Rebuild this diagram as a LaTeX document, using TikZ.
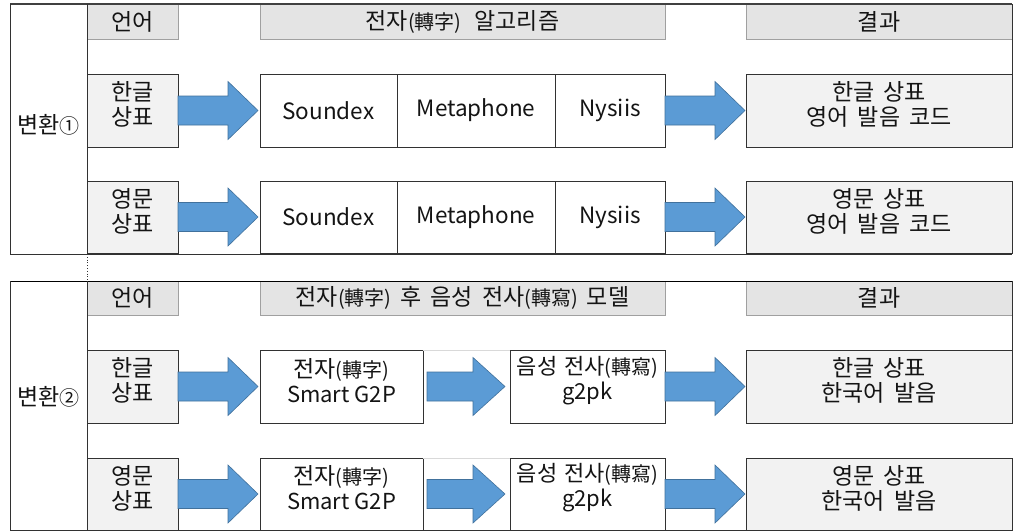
\documentclass[tikz,border=0pt]{standalone}
\usepackage{fontspec}
\setmainfont{Noto Sans CJK KR}
\usetikzlibrary{calc}
\definecolor{arrfill}{RGB}{91,155,213}
\definecolor{arredge}{RGB}{65,113,156}
\definecolor{hdrfill}{RGB}{228,228,228}
\definecolor{hdredge}{RGB}{160,160,160}
\definecolor{lblfill}{RGB}{242,242,242}
\definecolor{boxedge}{RGB}{50,50,50}
\definecolor{txt}{RGB}{20,20,20}
\newcommand{\hj}[1]{{\fontsize{20}{25}\selectfont #1}}
\newcommand{\ks}{\hspace{9pt}}
\tikzset{
  base/.style={inner sep=0pt, outer sep=0pt, line width=0.8pt},
  hdr/.style={base, draw=hdredge, fill=hdrfill, text=txt, font=\fontsize{23}{25}\selectfont},
  lbl/.style={base, draw=boxedge, fill=lblfill},
  wbox/.style={base, draw=boxedge, fill=white, text=txt, font=\fontsize{22.5}{25}\selectfont},
  tx/.style={inner sep=0pt, text=txt, font=\fontsize{23}{25}\selectfont, align=center},
  frame/.style={draw=boxedge, line width=0.8pt},
  blockarrow/.style={fill=arrfill, draw=arredge, line width=0.6pt, line join=miter},
}
% #1 start node, #2 end node, #3 gap at start, #4 gap at end, #5 head length
\newcommand{\bigarrow}[5]{%
  \path[blockarrow] let \p1=(#1.east), \p2=(#2.west) in
    ($(\x1+#3,\y1+14.5pt)$) -- ($(\x2-#4-#5,\y1+14.5pt)$) -- ($(\x2-#4-#5,\y1+29pt)$)
    -- ($(\x2-#4,\y1)$) -- ($(\x2-#4-#5,\y1-29pt)$) -- ($(\x2-#4-#5,\y1-14.5pt)$)
    -- ($(\x1+#3,\y1-14.5pt)$) -- cycle;}
\begin{document}
\begin{tikzpicture}[x=1pt,y=-1pt]
\useasboundingbox (0,0) rectangle (1017,531);
\fill[white] (0,0) rectangle (1017,531);

% ===== Panel 1 =====
\node[hdr, minimum width=91pt, minimum height=35pt] (a-h1) at (132.5,21.5) {언어};
\node[hdr, minimum width=405pt, minimum height=35pt] (a-h2) at (462.5,21.5) {전자\hj{(轉字)}\hspace{13pt}알고리즘};
\node[hdr, minimum width=266pt, minimum height=35pt] (a-h3) at (879,21.5) {결과};

\node[lbl, minimum width=91pt, minimum height=73pt] (a-l1) at (132.5,110.5) {};
\node[wbox, minimum width=137pt, minimum height=73pt] (a-s1) at (328.5,110.5) {Soundex};
\node[wbox, minimum width=158pt, minimum height=73pt] (a-m1) at (476,110.5) {Metaphone};
\node[wbox, minimum width=110pt, minimum height=73pt] (a-n1) at (610,110.5) {Nysiis};
\node[lbl, minimum width=266pt, minimum height=73pt] (a-r1) at (879,110.5) {};
\node[tx] (a-l1t) at ($(a-l1.center)+(0,-6)$) {한글\\상표};
\node[tx] (a-r1t) at ($(a-r1.center)+(0,-6)$) {한글\ks 상표\\영어\ks 발음\ks 코드};

\node[lbl, minimum width=91pt, minimum height=72pt] (a-l2) at (132.5,217) {};
\node[wbox, minimum width=137pt, minimum height=72pt] (a-s2) at (328.5,217) {Soundex};
\node[wbox, minimum width=158pt, minimum height=72pt] (a-m2) at (476,217) {Metaphone};
\node[wbox, minimum width=110pt, minimum height=72pt] (a-n2) at (610,217) {Nysiis};
\node[lbl, minimum width=266pt, minimum height=72pt] (a-r2) at (879,217) {};
\node[tx] (a-l2t) at ($(a-l2.center)+(0,-6)$) {영문\\상표};
\node[tx] (a-r2t) at ($(a-r2.center)+(0,-6)$) {영문\ks 상표\\영어\ks 발음\ks 코드};

\node[tx] (a-side) at (48.5,125) {변환\hj{①}};

\bigarrow{a-l1}{a-s1}{0pt}{2pt}{30pt}
\bigarrow{a-n1}{a-r1}{0pt}{1pt}{30pt}
\bigarrow{a-l2}{a-s2}{0pt}{2pt}{30pt}
\bigarrow{a-n2}{a-r2}{0pt}{1pt}{30pt}

\coordinate (a-tl) at (10,4);
\coordinate (a-tr) at (1012,4);
\coordinate (a-bl) at (10,254);
\coordinate (a-br) at (1012,254);
\coordinate (a-dt) at (87,4);
\coordinate (a-db) at (87,254);
\draw[frame, line width=1.8pt, draw=black!75] (a-tl) -- (a-tr);
\draw[frame] (a-tl) -- (a-bl) -- (a-br);
\draw[frame] (a-tr) -- (a-h3.south east) -- (a-r1.north east);
\draw[frame] (a-dt) -- (a-db);

% ===== Panel 2 =====
\node[hdr, minimum width=91pt, minimum height=34pt] (b-h1) at (132.5,298) {언어};
\node[hdr, minimum width=405pt, minimum height=34pt] (b-h2) at (462.5,298) {전자\hj{(轉字)}\ks 후\ks 음성\ks 전사\hj{(轉寫)}\ks 모델};
\node[hdr, minimum width=266pt, minimum height=34pt] (b-h3) at (879,298) {결과};

\node[lbl, minimum width=91pt, minimum height=73pt] (b-l1) at (132.5,386.5) {};
\node[wbox, minimum width=163pt, minimum height=73pt] (b-g1) at (341.5,386.5) {};
\node[wbox, minimum width=155pt, minimum height=73pt] (b-p1) at (587.5,386.5) {};
\node[lbl, minimum width=266pt, minimum height=73pt] (b-r1) at (879,386.5) {};
\node[tx] (b-l1t) at ($(b-l1.center)+(0,-6)$) {한글\\상표};
\node[tx] (b-g1t) at ($(b-g1.center)+(0,-6)$) {전자\hj{(轉字)}\\{\fontsize{22}{25}\selectfont Smart G2P}};
\node[tx, font=\fontsize{22}{25}\selectfont] (b-p1t) at ($(b-p1.center)+(0,-6)$) {음성\hspace{7pt}전사\hj{(轉寫)}\\g2pk};
\node[tx] (b-r1t) at ($(b-r1.center)+(0,-6)$) {한글\ks 상표\\한국어\ks 발음};

\node[lbl, minimum width=91pt, minimum height=72pt] (b-l2) at (132.5,494) {};
\node[wbox, minimum width=163pt, minimum height=72pt] (b-g2) at (341.5,494) {};
\node[wbox, minimum width=155pt, minimum height=72pt] (b-p2) at (587.5,494) {};
\node[lbl, minimum width=266pt, minimum height=72pt] (b-r2) at (879,494) {};
\node[tx] (b-l2t) at ($(b-l2.center)+(0,-6)$) {영문\\상표};
\node[tx] (b-g2t) at ($(b-g2.center)+(0,-6)$) {전자\hj{(轉字)}\\{\fontsize{22}{25}\selectfont Smart G2P}};
\node[tx, font=\fontsize{22}{25}\selectfont] (b-p2t) at ($(b-p2.center)+(0,-6)$) {음성\hspace{7pt}전사\hj{(轉寫)}\\g2pk};
\node[tx] (b-r2t) at ($(b-r2.center)+(0,-6)$) {영문\ks 상표\\한국어\ks 발음};

\node[tx] (b-side) at (48.5,397) {변환\hj{②}};

\draw[black!15, line width=0.8pt] (b-g1.north east) -- (b-p1.north west);
\draw[black!15, line width=0.8pt] (b-g2.north east) -- (b-p2.north west);

\bigarrow{b-l1}{b-g1}{0pt}{2pt}{30pt}
\bigarrow{b-g1}{b-p1}{4pt}{5pt}{32pt}
\bigarrow{b-p1}{b-r1}{0pt}{1pt}{30pt}
\bigarrow{b-l2}{b-g2}{0pt}{2pt}{30pt}
\bigarrow{b-g2}{b-p2}{4pt}{5pt}{32pt}
\bigarrow{b-p2}{b-r2}{0pt}{1pt}{30pt}

\coordinate (b-tl) at (10,281);
\coordinate (b-tr) at (1012,281);
\coordinate (b-bl) at (10,530);
\coordinate (b-br) at (1012,530);
\coordinate (b-dt) at (87,281);
\coordinate (b-db) at (87,530);
\draw[frame, draw=black] (b-tl) -- (b-tr);
\draw[frame] (b-tl) -- (b-bl) -- (b-br);
\draw[frame] (b-tr) -- (b-h3.south east) -- (b-r1.north east);
\draw[frame] (b-dt) -- (b-db);

% dotted link between panels
\draw[black!80, line width=0.8pt, dotted] (a-db) -- (b-dt);
\end{tikzpicture}
\end{document}
